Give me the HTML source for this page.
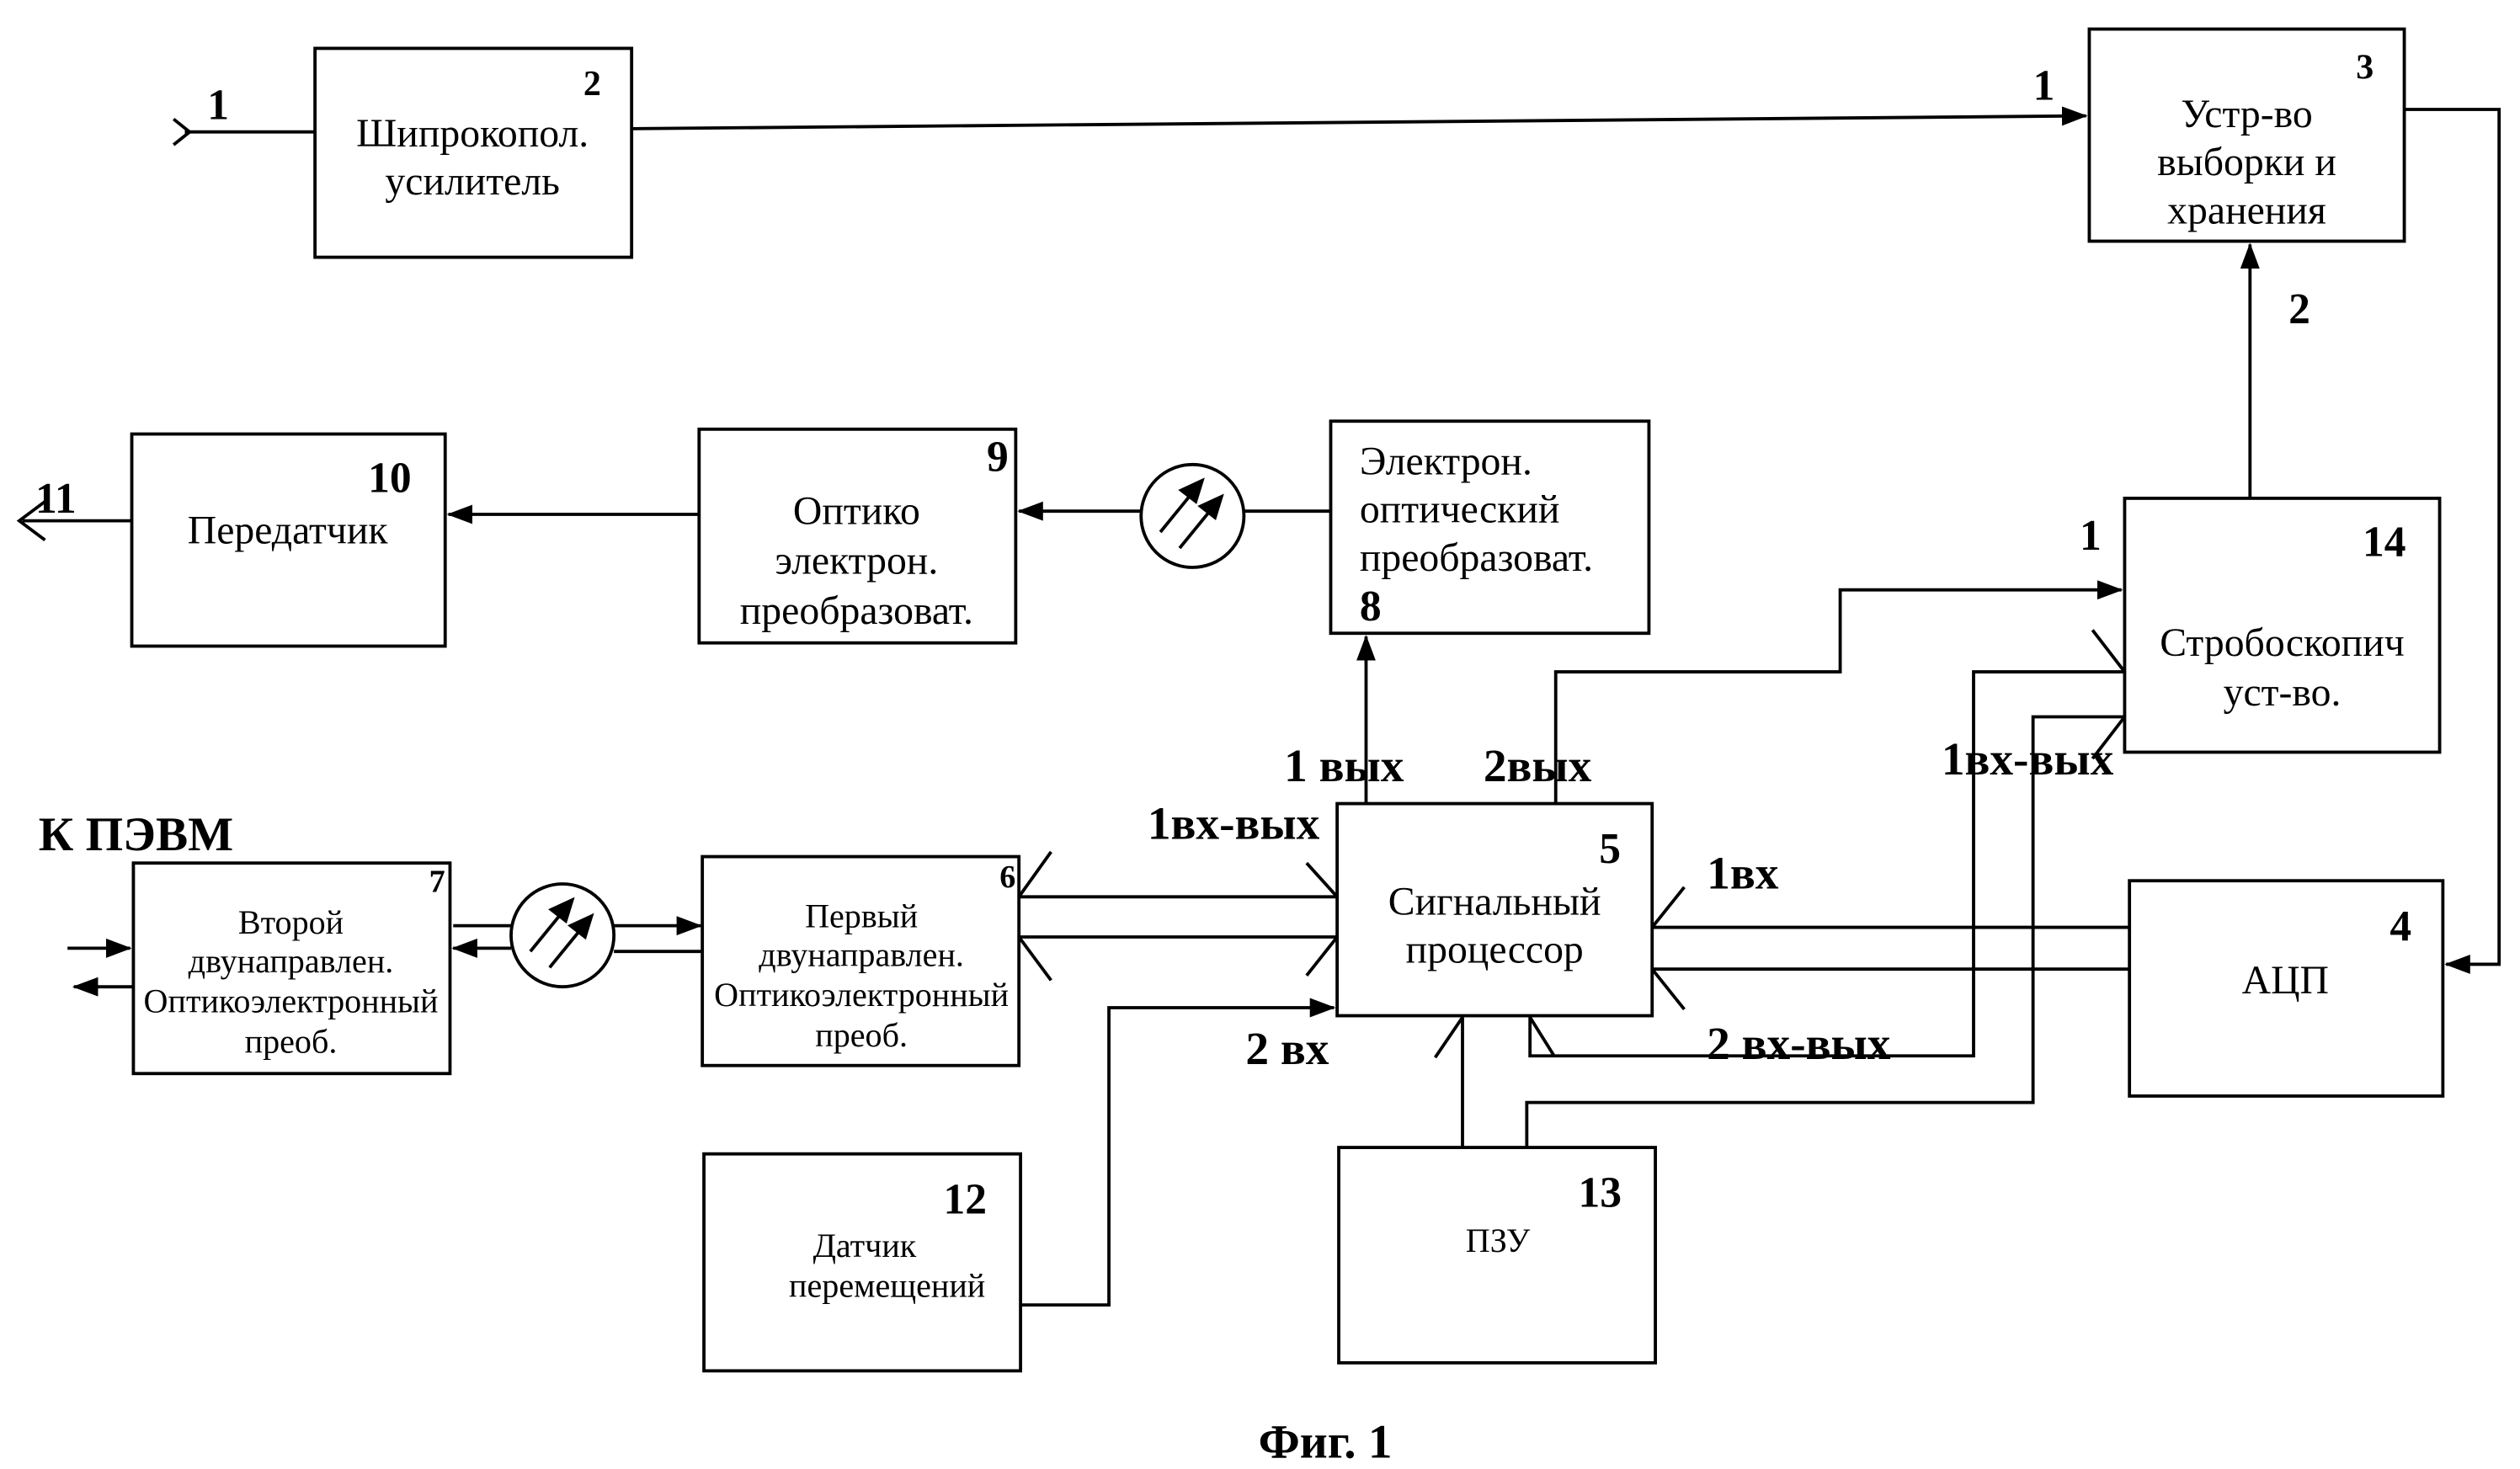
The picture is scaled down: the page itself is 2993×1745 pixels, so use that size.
<!DOCTYPE html>
<html><head><meta charset="utf-8"><style>
html,body{margin:0;padding:0;background:#fff;}
svg{display:block;}
text{font-family:"Liberation Serif",serif;fill:#000;}
</style></head><body>
<svg width="2993" height="1745" viewBox="0 0 1568 914" xmlns="http://www.w3.org/2000/svg">
<defs>
<marker id="a2" markerWidth="16" markerHeight="12" refX="15" refY="6" orient="auto" markerUnits="userSpaceOnUse"><path d="M0,0 L16,6 L0,12 z" fill="#000"/></marker>
</defs>
<g fill="none" stroke="#000" stroke-width="2">
<rect x="196" y="30" width="197" height="130"/>
<rect x="1300" y="18" width="196" height="132"/>
<rect x="1322" y="310" width="196" height="158"/>
<rect x="82" y="270" width="195" height="132"/>
<rect x="435" y="267" width="197" height="133"/>
<rect x="828" y="262" width="198" height="132"/>
<rect x="832" y="500" width="196" height="132"/>
<rect x="833" y="714" width="197" height="134"/>
<rect x="1325" y="548" width="195" height="134"/>
<rect x="437" y="533" width="197" height="130"/>
<rect x="438" y="718" width="197" height="135"/>
<rect x="83" y="537" width="197" height="131"/>
<line x1="115" y1="82" x2="196" y2="82"/>
<polyline points="108,74 118,82 108,90"/>
<line x1="393" y1="80" x2="1298" y2="72" marker-end="url(#a2)"/>
<polyline points="1496,68 1555,68 1555,600 1522,600" marker-end="url(#a2)"/>
<line x1="1400" y1="310" x2="1400" y2="152" marker-end="url(#a2)"/>
<line x1="82" y1="324" x2="14" y2="324"/>
<polyline points="28,312 12,324 28,336"/>
<line x1="435" y1="320" x2="279" y2="320" marker-end="url(#a2)"/>
<circle cx="742" cy="321" r="32"/>
<line x1="828" y1="318" x2="774" y2="318"/>
<line x1="710" y1="318" x2="634" y2="318" marker-end="url(#a2)"/>
<line x1="850" y1="500" x2="850" y2="396" marker-end="url(#a2)"/>
<polyline points="968,500 968,418 1145,418 1145,367 1320,367" marker-end="url(#a2)"/>
<polyline points="1322,418 1228,418 1228,657 952,657 952,632"/>
<polyline points="1322,446 1265,446 1265,686 950,686 950,714"/>
<line x1="910" y1="714" x2="910" y2="633"/>
<line x1="1325" y1="577" x2="1028" y2="577"/>
<line x1="1325" y1="603" x2="1028" y2="603"/>
<line x1="634" y1="558" x2="832" y2="558"/>
<line x1="634" y1="583" x2="832" y2="583"/>
<polyline points="636,812 690,812 690,627 830,627" marker-end="url(#a2)"/>
<circle cx="350" cy="582" r="32"/>
<line x1="382" y1="576" x2="436" y2="576" marker-end="url(#a2)"/>
<line x1="382" y1="592" x2="437" y2="592"/>
<line x1="318" y1="590" x2="282" y2="590" marker-end="url(#a2)"/>
<line x1="282" y1="576" x2="318" y2="576"/>
<line x1="42" y1="590" x2="81" y2="590" marker-end="url(#a2)"/>
<line x1="82" y1="614" x2="46" y2="614" marker-end="url(#a2)"/>
<line x1="813" y1="537" x2="832" y2="558"/>
<line x1="813" y1="607" x2="832" y2="583"/>
<line x1="634" y1="558" x2="654" y2="530"/>
<line x1="634" y1="583" x2="654" y2="610"/>
<line x1="1028" y1="577" x2="1048" y2="552"/>
<line x1="1028" y1="603" x2="1048" y2="628"/>
<line x1="910" y1="633" x2="893" y2="658"/>
<line x1="952" y1="633" x2="967" y2="657"/>
<line x1="1322" y1="418" x2="1302" y2="392"/>
<line x1="1322" y1="446" x2="1302" y2="472"/>
</g>
<g stroke="#000" stroke-width="2" fill="#000">
<line x1="722" y1="331" x2="744" y2="304"/><path d="M748,299 L735,305 L744,312z"/>
<line x1="734" y1="341" x2="756" y2="314"/><path d="M760,309 L747,315 L756,322z"/>
<line x1="330" y1="592" x2="352" y2="565"/><path d="M356,560 L343,566 L352,573z"/>
<line x1="342" y1="602" x2="364" y2="575"/><path d="M368,570 L355,576 L364,583z"/>
</g>
<g font-size="25">
<text x="294" y="91" text-anchor="middle">Шипрокопол.</text>
<text x="294" y="121" text-anchor="middle">усилитель</text>
<text x="1398" y="79" text-anchor="middle">Устр-во</text>
<text x="1398" y="109" text-anchor="middle">выборки и</text>
<text x="1398" y="139" text-anchor="middle">хранения</text>
<text x="1420" y="408" text-anchor="middle">Стробоскопич</text>
<text x="1420" y="439" text-anchor="middle">уст-во.</text>
<text x="179" y="338" text-anchor="middle">Передатчик</text>
<text x="533" y="326" text-anchor="middle">Оптико</text>
<text x="533" y="357" text-anchor="middle">электрон.</text>
<text x="533" y="388" text-anchor="middle">преобразоват.</text>
<text x="846" y="295">Электрон.</text>
<text x="846" y="325">оптический</text>
<text x="846" y="355">преобразоват.</text>
<text x="930" y="569" text-anchor="middle">Сигнальный</text>
<text x="930" y="599" text-anchor="middle">процессор</text>
<text x="1422" y="618" text-anchor="middle">АЦП</text>
</g>
<g font-size="21">
<text x="536" y="577" text-anchor="middle">Первый</text>
<text x="536" y="601" text-anchor="middle">двунаправлен.</text>
<text x="536" y="626" text-anchor="middle">Оптикоэлектронный</text>
<text x="536" y="651" text-anchor="middle">преоб.</text>
<text x="181" y="581" text-anchor="middle">Второй</text>
<text x="181" y="605" text-anchor="middle">двунаправлен.</text>
<text x="181" y="630" text-anchor="middle">Оптикоэлектронный</text>
<text x="181" y="655" text-anchor="middle">преоб.</text>
<text x="538" y="782" text-anchor="middle">Датчик</text>
<text x="552" y="807" text-anchor="middle">перемещений</text>
<text x="932" y="779" text-anchor="middle">ПЗУ</text>
</g>
<g font-size="27" font-weight="bold">
<text x="129" y="74">1</text>
<text x="363" y="59" font-size="22">2</text>
<text x="1265" y="62">1</text>
<text x="1466" y="49" font-size="22">3</text>
<text x="1424" y="201">2</text>
<text x="1470" y="346">14</text>
<text x="1294" y="342">1</text>
<text x="229" y="306">10</text>
<text x="22" y="319">11</text>
<text x="614" y="293">9</text>
<text x="846" y="386">8</text>
<text x="995" y="537">5</text>
<text x="1487" y="585">4</text>
<text x="982" y="751">13</text>
<text x="587" y="755">12</text>
<text x="622" y="552" font-size="20">6</text>
<text x="267" y="555" font-size="20">7</text>
<text x="799" y="486" font-size="29">1 вых</text>
<text x="923" y="486" font-size="29">2вых</text>
<text x="714" y="522" font-size="29">1вх-вых</text>
<text x="1062" y="553" font-size="29">1вх</text>
<text x="1208" y="482" font-size="29">1вх-вых</text>
<text x="1062" y="659" font-size="29">2 вх-вых</text>
<text x="775" y="662" font-size="29">2 вх</text>
<text x="24" y="529" font-size="30">К ПЭВМ</text>
<text x="783" y="907" font-size="30">Фиг. 1</text>
</g>
</svg>
</body></html>
